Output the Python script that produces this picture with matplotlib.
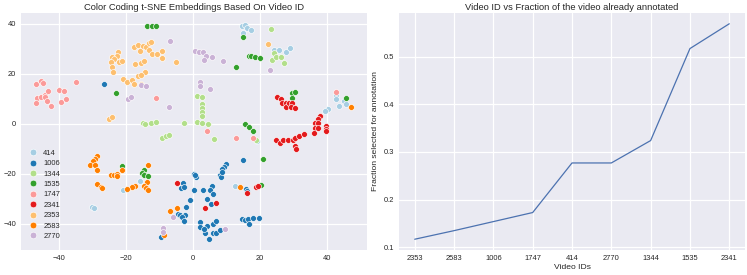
import matplotlib
matplotlib.use("Agg")
import matplotlib.pyplot as plt
from matplotlib.lines import Line2D

plt.style.use("seaborn-v0_8-darkgrid")
plt.rcParams['font.family'] = ['Liberation Sans', 'DejaVu Sans']

# ---------------- data: t-SNE embeddings per video id ----------------
video_ids = ["414", "1006", "1344", "1535", "1747", "2341", "2353", "2583", "2770"]
colors = ["#a6cee3", "#1f78b4", "#b2df8a", "#33a02c", "#fb9a99",
          "#e31a1c", "#fdbf6f", "#ff7f00", "#cab2d6"]

x_414 = [14.7, 15.5, 16.2, 17.3, 15.0, 24.3, 25.7, 27.6, 28.8, 42.7, 42.6, 43.5, 44.9,
         45.7, 40.2, 39.4, 19.0, 12.5, -15.8, -21.0, -30.0, -29.5]
y_414 = [39.2, 39.5, 38.5, 37.7, 36.5, 29.5, 29.5, 28.8, 30.6, 11.7, 10.0, 7.3, 9.2,
         8.0, 5.9, 5.2, -6.8, -24.7, -22.6, -26.3, -33.1, -33.6]

x_1006 = [-26.4, 0.4, 0.9, 0.6, 9.9, 9.1, 8.8, 8.1, 8.4, 8.6, 15.0, -2.9, -3.6, -2.6,
          0.4, 3.1, 5.7, 5.1, 6.1, -0.9, 4.3, 5.3, -2.2, 15.8, 16.2, -4.6, -3.9, -2.4,
          -3.2, -2.6, 2.1, 2.1, 4.1, 5.9, 6.9, 3.6, 5.9, 6.9, 8.1, 4.9, 3.3, 14.5, 15.5,
          16.5, 17.8, 19.7, 16.7, -9.6]
y_1006 = [16.1, -19.9, -21.2, -20.5, -15.9, -17.2, -17.9, -20.3, -21.2, -19.0, -14.3,
          -23.6, -25.6, -25.3, -26.3, -26.3, -24.9, -26.5, -27.9, -30.3, -30.1, -31.9,
          -33.2, -25.9, -26.8, -35.9, -36.5, -36.5, -37.2, -38.8, -39.2, -41.2, -40.9,
          -40.1, -38.8, -43.5, -43.6, -43.5, -42.5, -46.1, -42.0, -38.1, -38.5, -38.1,
          -37.6, -37.5, -40.1, -45.3]

x_1344 = [23.3, 24.2, 23.7, 24.8, 26.2, 27.2, 1.3, 2.6, 2.7, 2.7, 2.7, 2.7, 1.3, 2.8,
          4.6, -2.8, -15.0, -14.3, -12.6, -11.1, -9.1, -8.2, -7.3, 6.3, 18.8]
y_1344 = [38.0, 28.4, 25.5, 26.8, 26.8, 24.3, 11.3, 10.7, 8.0, 6.5, 4.9, 3.2, 0.9, 0.3,
          0.0, 0.3, 0.5, 0.1, 0.4, 0.9, -5.4, -4.7, -4.3, -6.1, -6.3]

x_1535 = [-13.6, -12.3, -11.1, 14.8, 12.7, 16.6, 17.2, 18.5, 20.0, -23.0, 29.4, 30.4,
          29.4, 45.7, 15.5, 16.6, 18.0, 21.0, 20.3, -21.1, -14.5, -15.1, -14.5, -13.3]
y_1535 = [39.3, 39.3, 39.3, 34.7, 22.7, 27.2, 27.1, 26.8, 26.5, 12.3, 12.3, 12.8, 10.3,
          10.4, -0.1, -1.3, -2.6, -13.9, -24.3, -16.9, -18.3, -19.6, -20.5, -20.9]

x_1747 = [-46.7, -45.4, -44.7, -46.4, -45.2, -44.2, -43.2, -44.1, -46.7, -43.4, -42.4,
          -39.9, -38.4, -39.4, -37.9, -34.9, -11.1, 42.7, 4.1, 12.7, 18.0]
y_1747 = [15.9, 17.1, 16.5, 10.4, 10.8, 11.7, 13.3, 10.8, 8.4, 9.1, 7.1, 13.7, 13.1,
          8.7, 10.0, 16.7, 10.4, 12.8, -2.9, -5.5, -5.6]

x_2341 = [25.2, 26.3, 26.5, 27.7, 27.7, 28.7, 29.5, 29.3, 30.3, 37.9, 37.2, 36.4, 37.4,
          36.4, 37.4, 39.7, 39.7, 39.7, 24.7, 26.0, 26.8, 28.2, 29.7, 30.3, 31.6, 33.1,
          36.2, 30.4, 30.6, 3.6, 6.8, 18.8, 19.5, 16.2, -4.7]
y_2341 = [10.8, 9.9, 8.3, 8.5, 6.9, 8.5, 8.5, 6.9, 6.3, 3.2, 1.9, 0.3, 0.3, -1.7, -1.7,
          -0.8, -2.1, -2.9, -6.5, -7.6, -6.5, -6.5, -6.3, -5.6, -4.8, -3.9, -3.5, -8.9,
          -9.9, -33.5, -31.5, -25.2, -24.8, -27.6, -23.7]

x_2353 = [-22.3, -22.8, -24.1, -23.5, -24.6, -22.1, -21.3, -24.1, -23.8, -17.5, -16.3,
          -15.0, -15.8, -14.1, -13.0, -12.6, -13.2, -12.3, -10.6, -9.2, -9.2, -17.3,
          -15.6, -14.5, -14.3, -16.3, -15.6, -5.1, -21.0, -19.6, -18.1, -17.5, -15.6,
          -25.1, -24.1, 22.5]
y_2353 = [28.9, 27.2, 26.9, 25.9, 24.7, 24.9, 25.3, 22.9, 20.7, 30.8, 31.6, 31.2, 29.2,
          30.8, 32.5, 32.9, 29.6, 28.0, 28.1, 29.2, 26.5, 24.0, 24.5, 25.1, 20.8, 19.3,
          19.7, 24.8, 18.1, 16.7, 17.6, 16.0, 16.0, 2.0, 2.9, 32.1]

x_2583 = [-28.7, -29.3, -29.9, -30.6, -29.3, -28.7, -28.7, -27.5, -27.0, -24.5, -23.6,
          -22.6, -22.6, -21.3, -13.3, -13.7, -14.5, -14.1, -13.3, -17.3, -18.3, -19.8,
          -4.7, -6.9, -8.6, 14.0, 47.2]
y_2583 = [-12.9, -13.9, -14.9, -16.3, -16.3, -18.3, -24.1, -25.2, -25.5, -20.3, -20.3,
          -19.9, -20.8, -18.5, -16.5, -23.2, -24.9, -25.5, -26.5, -24.9, -25.2, -25.9,
          -33.6, -34.9, -44.3, -25.2, 6.8]

x_2770 = [-7.0, 0.6, 1.8, 3.0, 3.9, 3.3, 5.6, 8.9, 23.0, -15.5, -14.0, -19.3, -18.6,
          -7.3, 2.1, 2.1, 5.1, -5.9, -8.9, -8.9, 9.6]
y_2770 = [33.2, 29.2, 28.7, 28.7, 27.2, 25.6, 26.8, 25.2, 21.6, 15.7, 15.1, 10.1, 10.9,
          6.8, 16.7, 15.2, 14.0, -37.3, -41.6, -43.2, -41.9]

xs = [x_414, x_1006, x_1344, x_1535, x_1747, x_2341, x_2353, x_2583, x_2770]
ys = [y_414, y_1006, y_1344, y_1535, y_1747, y_2341, y_2353, y_2583, y_2770]

# ---------------- data: fraction annotated per video ----------------
order_ids = ["2353", "2583", "1006", "1747", "414", "2770", "1344", "1535", "2341"]
fractions = [0.117, 0.135, 0.154, 0.173, 0.277, 0.277, 0.324, 0.517, 0.569]

# ---------------- figure ----------------
W, H = 747, 275
fig = plt.figure(figsize=(W / 100, H / 100), dpi=100)
ax1 = fig.add_axes([21 / W, 25 / H, 346 / W, 237 / H])
ax2 = fig.add_axes([399 / W, 25 / H, 346 / W, 237 / H])

tick_fs = 5.4
title_fs = 6.75
label_fs = 6.1
text_col = "#262626"

for ax in (ax1, ax2):
    ax.set_facecolor("#EAEAF2")
    ax.grid(True, color="white", linewidth=0.9)
    for s in ax.spines.values():
        s.set_visible(False)
    ax.tick_params(axis="both", labelsize=tick_fs, length=0, pad=3.5, colors=text_col)
    ax.set_axisbelow(True)

for vid, c, x, y in zip(video_ids, colors, xs, ys):
    ax1.scatter(x, y, s=18, color=c, edgecolors="white", linewidths=0.45, label=vid, zorder=3)

ax1.set_xlim(-51.3, 51.9)
ax1.set_ylim(-50.4, 44.4)
ax1.set_xticks([-40, -20, 0, 20, 40])
ax1.set_yticks([-40, -20, 0, 20, 40])
ax1.set_title("Color Coding t-SNE Embeddings Based On Video ID", fontsize=title_fs,
              pad=2.5, color=text_col)

handles = [Line2D([], [], marker="o", linestyle="", markersize=4.8, markerfacecolor=c,
                  markeredgecolor="white", markeredgewidth=0.45) for c in colors]
leg = ax1.legend(handles, video_ids, loc="lower left", bbox_to_anchor=(0.01, 0.02),
                 frameon=False, fontsize=tick_fs, labelspacing=0.42, handlelength=1.0,
                 handletextpad=0.8, borderaxespad=0.3)
for t in leg.get_texts():
    t.set_color(text_col)

ax2.plot(order_ids, fractions, color="#4C72B0", linewidth=0.9)
ax2.set_yticks([0.1, 0.2, 0.3, 0.4, 0.5])
ax2.set_title("Video ID vs Fraction of the video already annotated", fontsize=title_fs,
              pad=2.5, color=text_col)
ax2.set_xlabel("Video IDs", fontsize=label_fs, labelpad=1.5, color=text_col)
ax2.set_ylabel("Fraction selected for annotation", fontsize=label_fs, labelpad=3,
               color=text_col)

fig.savefig("out.png", dpi=100)
